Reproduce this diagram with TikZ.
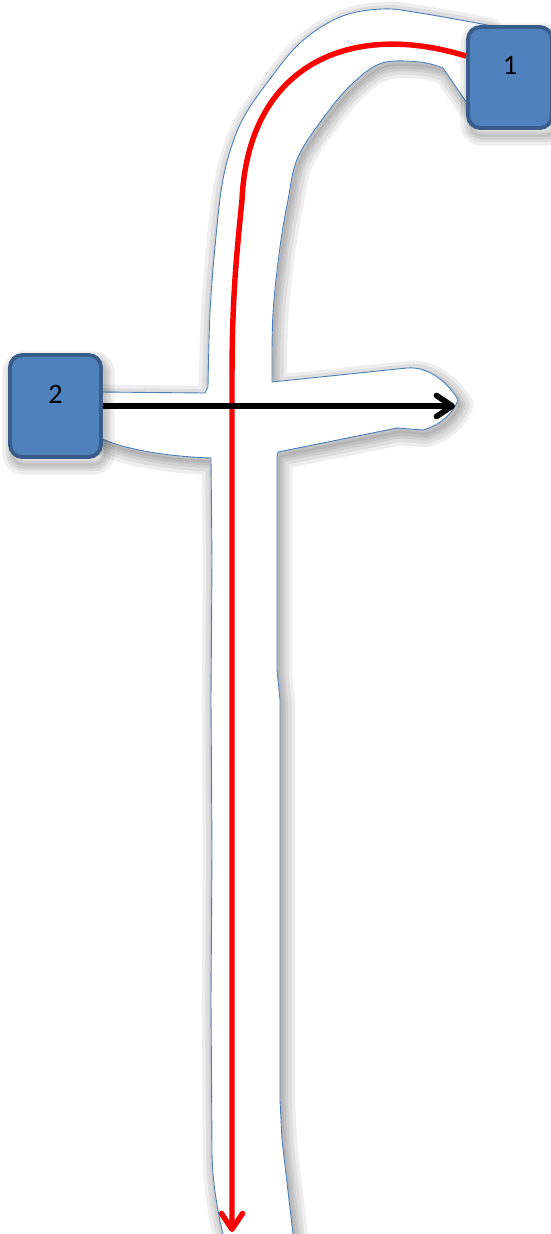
\documentclass[tikz,border=0pt]{standalone}
\usepackage{fontspec}
\setmainfont{Carlito}
\usetikzlibrary{arrows.meta,backgrounds}
\definecolor{boxblue}{HTML}{4F81BD}
\definecolor{boxedge}{HTML}{385D8A}
\definecolor{fblue}{HTML}{4A7EBB}
% outline of the letter, in pixel units
\newcommand{\fletter}{(223,1250) -- (223,1234) .. controls (216,1205) and (212,1175) .. (212,1150)
  -- (211,1000) -- (212,850) -- (211,700) -- (212,560) -- (211,458)
  .. controls (180,457) and (130,452) .. (100,438) -- (100,392) -- (205,393) -- (208,387)
  -- plot[smooth, tension=0.6] coordinates {(208,387) (210,313) (215,247) (222,185) (232,145)
     (245,115) (267,83) (300,43) (340,17) (382,9) (420,13) (487,25)}
  -- (490,100) -- (467,103) -- (443,68)
  -- plot[smooth, tension=0.6] coordinates {(443,68) (420,62) (382,63) (353,83) (327,113)
     (298,157) (288,200) (280,247) (273,313) (272,377)}
  -- (272,382) -- (407,368) .. controls (430,366) and (450,385) .. (458,400)
  .. controls (452,415) and (440,425) .. (423,430) -- (397,428) -- (278,452) -- (277,457)
  -- (277,670) -- (280,700) -- (280,1100) -- (282,1140) -- (293,1234) -- (293,1250) -- cycle}
\tikzset{
  numbox/.style={draw=boxedge, fill=boxblue, line width=2.2pt, rounded corners=7pt,
    font=\fontsize{16}{18}\selectfont, text height=10.4pt, text depth=13.6pt, inner sep=0pt},
  softshade/.style={black, opacity=0.065, line join=round},
  redpath/.style={draw=red, line width=3.1pt, -{Straight Barb[length=9pt,width=12pt,round]}},
  barpath/.style={draw=black, line width=3.2pt, -{Straight Barb[length=9pt,width=12pt,round]}}
}
\begin{document}
\begin{tikzpicture}[x=0.02cm, y=-0.02cm]
  \useasboundingbox (0,0) rectangle (551,1234);

  \node[numbox, minimum width=1.68cm, minimum height=2.02cm] (box1) at (510,77.5) {1};
  \node[numbox, minimum width=1.82cm, minimum height=2.04cm] (box2) at (55.5,406) {2};

  \coordinate (stemend) at (232,1232);
  \coordinate (barend) at (455,406);

  \begin{scope}[on background layer]
    % soft shadow under the letter
    \begin{scope}[shift={(3,5)}]
      \foreach \w in {14pt,10pt,6pt,3pt}
        \draw[softshade, line width=\w] \fletter;
      \fill[softshade] \fletter;
    \end{scope}
    \filldraw[fill=white, draw=fblue, line width=0.5pt] \fletter;
    % shadows under the boxes
    \foreach \b in {box1,box2}{
      \foreach \w in {10pt,6pt,3pt}
        \draw[softshade, rounded corners=7pt, line width=\w]
          ([shift={(3,7)}]\b.south west) rectangle ([shift={(3,7)}]\b.north east);
      \fill[softshade, rounded corners=7pt]
        ([shift={(3,7)}]\b.south west) rectangle ([shift={(3,7)}]\b.north east);
    }
  \end{scope}

  \draw[redpath] (box1.154) .. controls (350,20) and (248,65) .. (242,200)
    .. controls (236,260) and (232,300) .. (232,380) -- (stemend);
  \draw[barpath] (box2.east) -- (barend);
\end{tikzpicture}
\end{document}
